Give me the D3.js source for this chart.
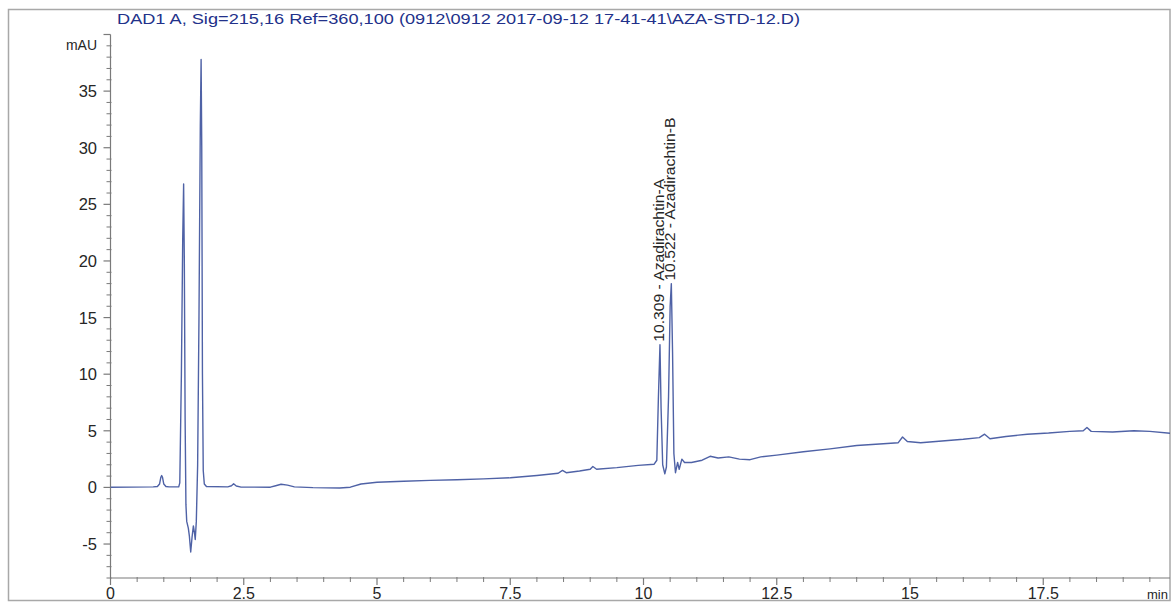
<!DOCTYPE html>
<html>
<head>
<meta charset="utf-8">
<script src="https://cdn.jsdelivr.net/npm/d3@7"></script>
<style>
  html, body { margin: 0; padding: 0; background: #fff; }
  svg { display: block; }
</style>
</head>
<body>
<svg id="chart" width="1172" height="603"></svg>
<script>
// ---- data ----
const titleText = "DAD1 A, Sig=215,16 Ref=360,100 (0912\\0912 2017-09-12 17-41-41\\AZA-STD-12.D)";
const yUnit = "mAU";
const xUnit = "min";

const timeMin = [
  0.00, 0.40, 0.80, 0.88, 0.92, 0.945, 0.96, 0.975, 1.00, 1.04, 1.10, 1.28,
  1.30, 1.33, 1.355, 1.372, 1.385, 1.40, 1.415, 1.43, 1.46, 1.48, 1.505, 1.53,
  1.555, 1.575, 1.59, 1.61, 1.635, 1.66, 1.685, 1.700, 1.712, 1.725, 1.74, 1.76,
  1.80, 2.20, 2.27, 2.31, 2.36, 2.45, 3.00, 3.10, 3.20, 3.32, 3.45, 3.80,
  4.30, 4.50, 4.70, 5.00, 5.50, 6.00, 6.50, 7.00, 7.50, 8.00, 8.40, 8.48,
  8.55, 8.80, 9.00, 9.05, 9.12, 9.50, 9.90, 10.20, 10.25, 10.28, 10.309, 10.33,
  10.36, 10.40, 10.43, 10.47, 10.50, 10.522, 10.545, 10.57, 10.60, 10.64, 10.67, 10.72,
  10.77, 10.90, 11.10, 11.25, 11.40, 11.60, 11.80, 12.00, 12.20, 12.50, 13.00, 13.50,
  14.00, 14.50, 14.78, 14.86, 14.95, 15.20, 15.60, 16.00, 16.30, 16.40, 16.50, 16.80,
  17.20, 17.60, 18.00, 18.25, 18.32, 18.40, 18.80, 19.20, 19.50, 19.95
];
const signalMAU = [
  0.02, 0.03, 0.05, 0.08, 0.3, 0.9, 1.05, 0.9, 0.3, 0.08, 0.05, 0.05,
  0.4, 10, 22, 26.8, 20, 6, -1.5, -3.0, -3.6, -4.3, -5.7, -4.4,
  -3.4, -4.0, -4.6, -3.0, 2, 15, 32, 37.8, 30, 10, 1.5, 0.3,
  0.08, 0.05, 0.15, 0.32, 0.12, 0.03, 0.02, 0.15, 0.28, 0.2, 0.05, -0.02,
  -0.05, 0.02, 0.3, 0.45, 0.55, 0.62, 0.68, 0.75, 0.85, 1.05, 1.25, 1.5,
  1.3, 1.45, 1.6, 1.85, 1.6, 1.75, 1.95, 2.05, 2.4, 8, 12.6, 7,
  2.0, 1.2, 1.8, 8, 16, 18.0, 12, 3, 1.3, 2.2, 1.6, 2.5,
  2.2, 2.2, 2.4, 2.75, 2.6, 2.7, 2.5, 2.45, 2.7, 2.85, 3.15, 3.4,
  3.7, 3.85, 3.95, 4.45, 4.05, 3.95, 4.1, 4.25, 4.4, 4.7, 4.3, 4.5,
  4.7, 4.8, 4.95, 5.0, 5.3, 4.95, 4.9, 5.0, 4.95, 4.75
];

const peakTimes  = [10.309, 10.522];
const peakHeights = [12.6, 18.0];
const peakNames  = ["Azadirachtin-A", "Azadirachtin-B"];

const xMajorTicks = [0, 2.5, 5, 7.5, 10, 12.5, 15, 17.5];
const xTickLabels = ["0", "2.5", "5", "7.5", "10", "12.5", "15", "17.5"];
const yMajorTicks = [-5, 0, 5, 10, 15, 20, 25, 30, 35];
const yTickLabels = ["-5", "0", "5", "10", "15", "20", "25", "30", "35"];

(function draw() {
  const svg = d3.select("#chart");
  const L = 110.5, R = 1170, T = 34.5, B = 578;
  const x = d3.scaleLinear().domain([0, 20]).range([L, L + 20 * 53.3]);
  const y = d3.scaleLinear().domain([-8, 40]).range([B, T]);

  const axisColor = "#7a7a7a";
  const textColor = "#262626";
  const lineColor = "#4f62a6";
  const font = "Liberation Sans, Arial, sans-serif";

  // outer frame
  svg.append("rect")
    .attr("x", 8.5).attr("y", 9.5).attr("width", 1161.5).attr("height", 591)
    .attr("fill", "none").attr("stroke", "#a8a8a8").attr("stroke-width", 1.5);

  // title
  svg.append("text")
    .attr("x", 117).attr("y", 24)
    .attr("fill", "#22318a")
    .attr("font-family", font)
    .attr("font-size", 15)
    .attr("textLength", 683)
    .attr("lengthAdjust", "spacingAndGlyphs")
    .text(titleText);

  svg.append("clipPath").attr("id", "clip")
    .append("rect").attr("x", L).attr("y", 0).attr("width", R - L).attr("height", B);

  // y axis
  const gy = svg.append("g");
  gy.append("line").attr("x1", L).attr("x2", L).attr("y1", T).attr("y2", B)
    .attr("stroke", axisColor).attr("stroke-width", 1.2);
  const yMinor = d3.range(-8, 41, 1).filter(v => !yMajorTicks.includes(v) && v !== 40);
  gy.selectAll("line.ymin").data(yMinor).join("line")
    .attr("x1", L - 4).attr("x2", L + 1)
    .attr("y1", d => y(d)).attr("y2", d => y(d))
    .attr("stroke", axisColor).attr("stroke-width", 1);
  gy.selectAll("line.ymaj").data(yMajorTicks.concat([40])).join("line")
    .attr("x1", L - 7).attr("x2", L)
    .attr("y1", d => y(d)).attr("y2", d => y(d))
    .attr("stroke", axisColor).attr("stroke-width", 1.2);
  gy.selectAll("text.ylab").data(yMajorTicks).join("text")
    .attr("x", 97).attr("y", d => y(d)).attr("dy", "0.36em")
    .attr("text-anchor", "end")
    .attr("fill", textColor)
    .attr("font-family", font)
    .attr("font-size", 16.5)
    .text((d, i) => yTickLabels[i]);
  gy.append("text")
    .attr("x", 97).attr("y", 50)
    .attr("text-anchor", "end")
    .attr("fill", textColor)
    .attr("font-family", font)
    .attr("font-size", 14)
    .text(yUnit);

  // x axis
  const gx = svg.append("g");
  gx.append("line").attr("x1", L).attr("x2", R).attr("y1", B).attr("y2", B)
    .attr("stroke", axisColor).attr("stroke-width", 1.2);
  const xMinor = d3.range(0.5, 20, 0.5).filter(v => !xMajorTicks.includes(v));
  gx.selectAll("line.xmin").data(xMinor).join("line")
    .attr("x1", d => x(d)).attr("x2", d => x(d))
    .attr("y1", B - 1).attr("y2", B + 4)
    .attr("stroke", axisColor).attr("stroke-width", 1);
  gx.selectAll("line.xmaj").data(xMajorTicks).join("line")
    .attr("x1", d => x(d)).attr("x2", d => x(d))
    .attr("y1", B).attr("y2", B + 7)
    .attr("stroke", axisColor).attr("stroke-width", 1.2);
  gx.selectAll("text.xlab").data(xMajorTicks).join("text")
    .attr("x", d => x(d)).attr("y", 599)
    .attr("text-anchor", "middle")
    .attr("fill", textColor)
    .attr("font-family", font)
    .attr("font-size", 16)
    .text((d, i) => xTickLabels[i]);
  gx.append("text")
    .attr("x", 1147).attr("y", 599)
    .attr("fill", textColor)
    .attr("font-family", font)
    .attr("font-size", 13)
    .text(xUnit);

  // trace
  const pts = timeMin.map((t, i) => [t, signalMAU[i]]);
  const line = d3.line().x(d => x(d[0])).y(d => y(d[1]));
  svg.append("path")
    .datum(pts)
    .attr("clip-path", "url(#clip)")
    .attr("d", line)
    .attr("fill", "none")
    .attr("stroke", lineColor)
    .attr("stroke-width", 1.4)
    .attr("stroke-linejoin", "round");

  // peak annotations (vertical, reading upward)
  svg.selectAll("text.peak").data(peakTimes).join("text")
    .attr("transform", (d, i) => `translate(${x(d) + 4},${y(peakHeights[i]) - 3}) rotate(-90)`)
    .attr("fill", textColor)
    .attr("font-family", font)
    .attr("font-size", 15)
    .attr("textLength", 163)
    .attr("lengthAdjust", "spacingAndGlyphs")
    .text((d, i) => `${d.toFixed(3)} - ${peakNames[i]}`);
})();
</script>
</body>
</html>
